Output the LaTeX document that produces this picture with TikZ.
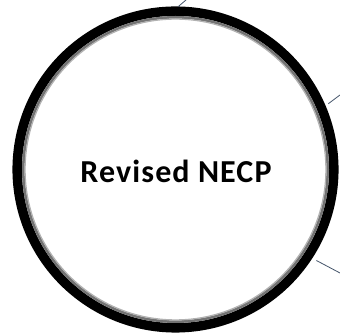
\documentclass[tikz,border=0pt]{standalone}
\usepackage{fontspec}
\setmainfont{Carlito}
\newfontfamily\titlefont[LetterSpace=3.5]{Carlito}
\definecolor{linkblue}{RGB}{68,84,106}
\tikzset{%
  ringnode/.style = {shape=circle, draw=black, line width=9.5pt,%
                     minimum size=316.6pt, inner sep=0pt},%
  ringshade/.style = {draw=black!55, line width=2.6pt},%
  ringlight/.style = {draw=black!30, line width=1.2pt},%
  title/.style    = {font=\titlefont\fontsize{32}{36}\selectfont\bfseries},%
  link/.style     = {draw=linkblue, line width=0.8pt}%
}

\begin{document}
\begin{tikzpicture}[x=1pt,y=1pt]
	\useasboundingbox (0,0) rectangle (340,334);
		\node[ringnode] (necp) at (175.5,164.5) {};
		\draw[ringshade] (necp.center) circle (152.2pt);
		\draw[ringlight] (necp.center) circle (150.4pt);
		\node[title] (label) at (176,162.5) {Revised NECP};
		% connectors leaving the picture
		\coordinate (toTop) at (186,334);
		\coordinate (toUpper) at (340,239);
		\coordinate (toLower) at (340,61);
		\draw[link] (necp.89.8) -- (toTop);
		\draw[link,shorten <=3.4pt] (necp.23.6) -- (toUpper);
		\draw[link,shorten <=4.7pt] (necp.-33.1) -- (toLower);
	\end{tikzpicture}
\end{document}
